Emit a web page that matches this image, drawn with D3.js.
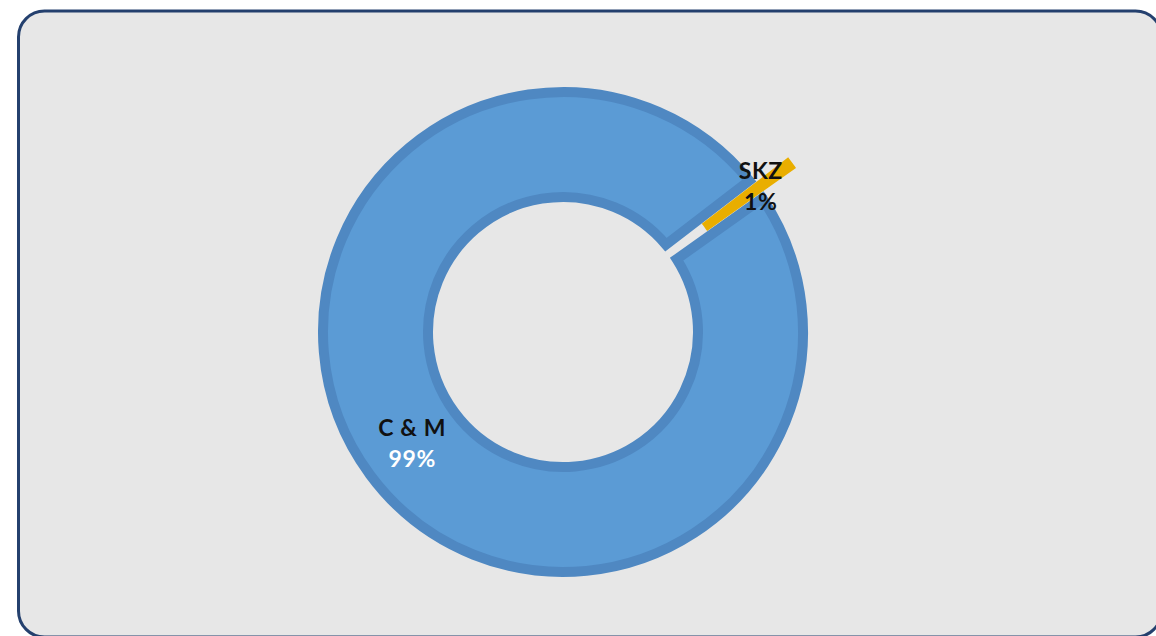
<!DOCTYPE html>
<meta charset="utf-8">
<script src="https://cdn.jsdelivr.net/npm/d3@7"></script>
<style>
  html, body { margin: 0; padding: 0; background: #ffffff; }
  svg { display: block; }
  .lbl { font-family: Lato, "Open Sans", sans-serif; font-weight: bold; letter-spacing: 0.6px; }
</style>
<body>
<div id="chart"></div>
<script>
// data
var categories = ["C & M", "SKZ"];
var shares = [99.4, 0.6];           // percent of total, labels round them
var sliceColors = ["#5b9bd5", "#e9ae00"];
var borderColors = ["#4f88c2", "#e9ae00"];
var labelValueColors = ["#ffffff", "#111111"];

var W = 1156, H = 636;
var cx = 563, cy = 332;
var outerR = 240, innerR = 135;    // path radii, stroke adds 5px each side
var explode = 43;                  // SKZ pulled out
var rotation = 54.6 * Math.PI / 180;

var svg = d3.select("#chart").append("svg")
    .attr("width", W)
    .attr("height", H);

// frame
svg.append("rect")
    .attr("x", 18.5)
    .attr("y", 11)
    .attr("width", 1143)
    .attr("height", 626)
    .attr("rx", 26)
    .attr("ry", 26)
    .attr("fill", "#e7e7e7")
    .attr("stroke", "#24406e")
    .attr("stroke-width", 3);

var data = categories.map(function(c, i) { return { name: c, value: shares[i], i: i }; });
var total = d3.sum(shares);

var pie = d3.pie()
    .sort(null)
    .value(function(d) { return d.value; })
    .startAngle(rotation)
    .endAngle(rotation + 2 * Math.PI);

var arcs = pie(data);

var arc = d3.arc()
    .innerRadius(innerR)
    .outerRadius(outerR)
    .padRadius(275)
    .padAngle(function(d) { return d.index === 0 ? 0.047 : 0; });

var g = svg.append("g")
    .attr("transform", "translate(" + cx + "," + cy + ")");

function offset(d, r) {
    var a = (d.startAngle + d.endAngle) / 2;
    return [Math.sin(a) * r, -Math.cos(a) * r];
}

g.selectAll("path.slice")
    .data(arcs)
    .enter().append("path")
    .attr("class", "slice")
    .attr("d", arc)
    .attr("transform", function(d) {
        var o = offset(d, d.index === 1 ? explode : 0);
        return "translate(" + o[0] + "," + o[1] + ")";
    })
    .attr("fill", function(d) { return sliceColors[d.index]; })
    .attr("stroke", function(d) { return borderColors[d.index]; })
    .attr("stroke-width", function(d) { return d.index === 0 ? 10 : 4; })
    .attr("stroke-linejoin", "miter");

// labels
var fmt = function(v) { return Math.round(v / total * 100) + "%"; };
var labelR = [(innerR + outerR) / 2, 246];

var labels = g.selectAll("g.lab")
    .data(arcs)
    .enter().append("g")
    .attr("class", "lab")
    .attr("transform", function(d) {
        var o = offset(d, labelR[d.index]);
        return "translate(" + o[0] + "," + o[1] + ")";
    });

labels.append("text")
    .attr("class", "lbl")
    .attr("text-anchor", "middle")
    .attr("y", -7)
    .attr("font-size", 23)
    .attr("fill", "#111111")
    .text(function(d) { return d.data.name; });

labels.append("text")
    .attr("class", "lbl")
    .attr("text-anchor", "middle")
    .attr("y", 24)
    .attr("font-size", 23)
    .attr("fill", function(d) { return labelValueColors[d.index]; })
    .text(function(d) { return fmt(d.data.value); });
</script>
</body>
